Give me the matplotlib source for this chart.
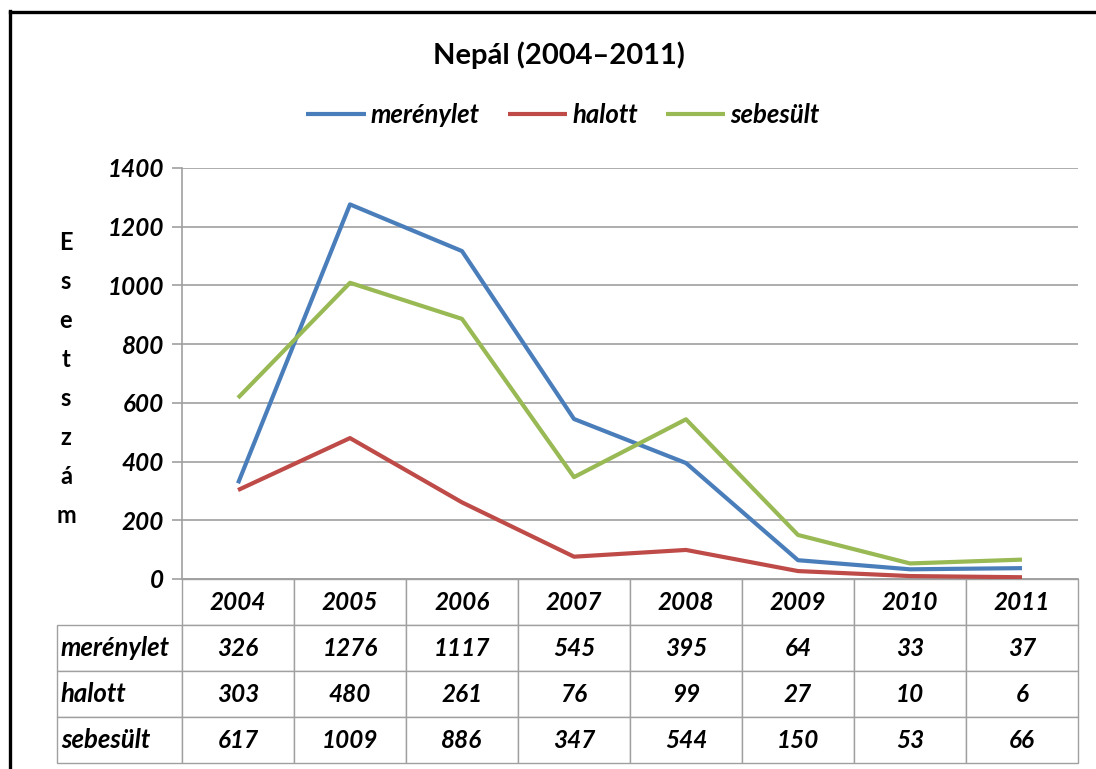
import numpy as np
import matplotlib
matplotlib.use("Agg")
import matplotlib.pyplot as plt
from matplotlib.lines import Line2D

plt.rcParams["font.family"] = ["Lato", "DejaVu Sans"]

# adatok
years = ["2004", "2005", "2006", "2007", "2008", "2009", "2010", "2011"]
series_names = ["merénylet", "halott", "sebesült"]
merenylet = [326, 1276, 1117, 545, 395, 64, 33, 37]
halott = [303, 480, 261, 76, 99, 27, 10, 6]
sebesult = [617, 1009, 886, 347, 544, 150, 53, 66]
colors = ["#4A7EBB", "#BE4B48", "#98B954"]

W, H = 1096, 769
fig = plt.figure(figsize=(W / 100, H / 100), dpi=100)

# plot area in pixels
left, top, right, bottom = 182, 168, 1078, 579
ax = fig.add_axes([left / W, 1 - bottom / H, (right - left) / W, (bottom - top) / H])

x = np.arange(len(years))
for vals, name, c in zip([merenylet, halott, sebesult], series_names, colors):
    ax.plot(x, vals, color=c, lw=3.0, label=name, solid_capstyle="butt", zorder=3)

ax.set_xlim(-0.5, len(years) - 0.5)
ax.set_ylim(0, 1400)
ax.set_yticks(range(0, 1401, 200))
ax.set_xticks([])
ax.grid(axis="y", color="#a0a0a0", lw=1.2)
ax.set_axisbelow(True)
for s in ["top", "right"]:
    ax.spines[s].set_visible(False)
ax.spines["left"].set_color("#a0a0a0")
ax.spines["bottom"].set_color("#a0a0a0")
ax.spines["left"].set_linewidth(1.2)
ax.spines["bottom"].set_linewidth(1.2)
ax.tick_params(axis="y", direction="out", length=7, width=1.2, color="#a0a0a0", pad=6)
for lab in ax.get_yticklabels():
    lab.set_fontsize(17.5)
    lab.set_fontweight("bold")
    lab.set_fontstyle("italic")

# data table under the plot
cell_text = [[name] + [str(v) for v in vals]
             for name, vals in zip(series_names, [merenylet, halott, sebesult])]
lab_w, col_w = 125, 112
tot_w = lab_w + col_w * len(years)
tbl_h = 763 - bottom
tbl = ax.table(cellText=cell_text, colLabels=[""] + years,
               colWidths=[lab_w / tot_w] + [col_w / tot_w] * len(years),
               cellLoc="center", loc="bottom",
               bbox=[-lab_w / (right - left), -tbl_h / (bottom - top),
                     tot_w / (right - left), tbl_h / (bottom - top)])
tbl.auto_set_font_size(False)
for (r, c), cell in tbl.get_celld().items():
    cell.set_edgecolor("#a0a0a0")
    cell.set_linewidth(1.0)
    t = cell.get_text()
    t.set_fontsize(17.5)
    t.set_fontweight("bold")
    t.set_fontstyle("italic")
    if c == 0:
        t.set_ha("left")
        t.set_fontsize(18.5)
        cell.PAD = 0.03
    if r == 0 and c == 0:
        cell.visible_edges = ""

# title, legend, y label
fig.text(559 / W, 1 - 55 / H, "Nepál (2004–2011)", ha="center", va="center",
         fontsize=21, fontweight="bold")
fig.legend(loc="center", bbox_to_anchor=(563 / W, 1 - 115 / H), ncol=3, frameon=False,
           handlelength=2.3, columnspacing=1.1, handletextpad=0.2,
           prop={"size": 18.5, "weight": "bold", "style": "italic"})
fig.text(66 / W, 1 - 379 / H, "\n".join("Esetszám"), ha="center", va="center",
         fontsize=17, fontweight="bold", linespacing=1.84)

# outer frame (top and left edge)
fig.add_artist(Line2D([9.5 / W, 9.5 / W], [0, 1 - 11 / H], color="black", lw=2.4))
fig.add_artist(Line2D([9.5 / W, 1], [1 - 11.5 / H, 1 - 11.5 / H], color="black", lw=2.4))

fig.savefig("out.png", dpi=100)
